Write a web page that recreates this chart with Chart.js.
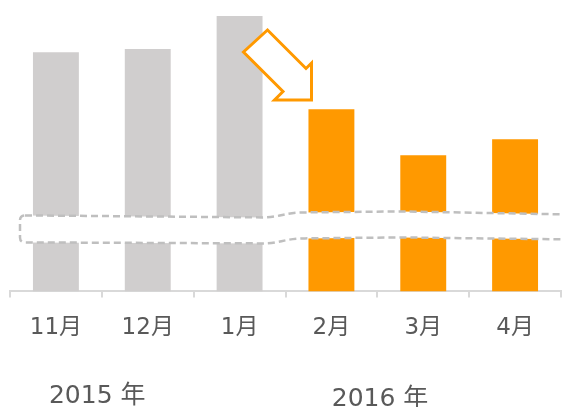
<!DOCTYPE html>
<html>
<head>
<meta charset="utf-8">
<script src="https://cdn.jsdelivr.net/npm/chart.js@4"></script>
<style>
  html, body { margin: 0; padding: 0; background: #fff; }
  #wrap { width: 563px; height: 407px; }
</style>
</head>
<body>
<div id="wrap"><canvas id="chartMeses"></canvas></div>
<script>
var meses = ['11月', '12月', '1月', '2月', '3月', '4月'];
var valores = [82.1, 83.2, 94.5, 62.5, 46.7, 52.2];
var colores = ['#d0cece', '#d0cece', '#d0cece', '#ff9900', '#ff9900', '#ff9900'];
var anios = ['2015 年', '2016 年'];

var fuente = "'DejaVu Sans', 'Noto Sans CJK JP', sans-serif";

// banda de corte del eje + flecha + etiquetas de año
var decoracion = {
    id: 'decoracion',
    afterDatasetsDraw: function (chart) {
        var ctx = chart.ctx;
        var x = chart.scales.x;
        var b = chart.chartArea.bottom;

        // banda discontinua (eje cortado)
        var r = 5;
        ctx.save();
        ctx.beginPath();
        ctx.moveTo(20 + r, b - 76);
        ctx.lineTo(262, b - 74);
        ctx.bezierCurveTo(280, b - 74, 285, b - 79, 305, b - 79);
        ctx.lineTo(400, b - 80);
        ctx.lineTo(566, b - 77);
        ctx.lineTo(566, b - 52);
        ctx.lineTo(400, b - 54);
        ctx.lineTo(305, b - 53);
        ctx.bezierCurveTo(285, b - 53, 280, b - 48, 262, b - 48);
        ctx.lineTo(20 + r, b - 49);
        ctx.quadraticCurveTo(20, b - 49, 20, b - 49 - r);
        ctx.lineTo(20, b - 76 + r);
        ctx.quadraticCurveTo(20, b - 76, 20 + r, b - 76);
        ctx.fillStyle = '#ffffff';
        ctx.fill();
        ctx.setLineDash([7, 4]);
        ctx.lineWidth = 2.5;
        ctx.strokeStyle = '#bfbfbf';
        ctx.stroke();
        ctx.restore();

        // flecha hacia abajo a la derecha
        var m = (x.getPixelForValue(2) + x.getPixelForValue(3)) / 2;
        var pts = [
            [268, 30], [306.5, 68.5], [312, 63], [312, 100],
            [275, 100], [283.5, 91.5], [244, 52]
        ];
        ctx.save();
        ctx.beginPath();
        pts.forEach(function (p, i) {
            var px = p[0] - 286 + m;
            i === 0 ? ctx.moveTo(px, p[1]) : ctx.lineTo(px, p[1]);
        });
        ctx.closePath();
        ctx.fillStyle = '#ffffff';
        ctx.fill();
        ctx.lineWidth = 3;
        ctx.lineJoin = 'miter';
        ctx.strokeStyle = '#ff9900';
        ctx.stroke();
        ctx.restore();

        // años
        ctx.save();
        ctx.font = '25px ' + fuente;
        ctx.fillStyle = '#595959';
        ctx.textAlign = 'center';
        ctx.textBaseline = 'alphabetic';
        ctx.fillText(anios[0], x.getPixelForValue(0.45), 403);
        ctx.fillText(anios[1], x.getPixelForValue(3.53), 406);
        ctx.restore();
    }
};

const cmc = document.getElementById('chartMeses');
var chartMeses = new Chart(cmc, {
    type: 'bar',
    plugins: [decoracion],
    data: {
        labels: meses,
        datasets: [
            {
                data: valores,
                backgroundColor: colores,
                borderWidth: 0,
                barPercentage: 0.5,
                categoryPercentage: 1,
            },
        ],
    },
    options: {
        responsive: true,
        maintainAspectRatio: false,
        animation: false,
        layout: {
            padding: { left: 10, right: 2, top: 0, bottom: 48 },
        },
        scales: {
            y: {
                display: false,
                min: 0,
                max: 100,
            },
            x: {
                border: { color: '#d9d9d9', width: 2 },
                grid: {
                    offset: true,
                    drawOnChartArea: false,
                    drawTicks: true,
                    tickLength: 6,
                    color: '#d9d9d9',
                    lineWidth: 2,
                },
                ticks: {
                    color: '#595959',
                    padding: 17,
                    maxRotation: 0,
                    font: { family: fuente, size: 23 },
                },
            },
        },
        plugins: {
            legend: { display: false },
            tooltip: { enabled: false },
        },
    },
});
</script>
</body>
</html>
